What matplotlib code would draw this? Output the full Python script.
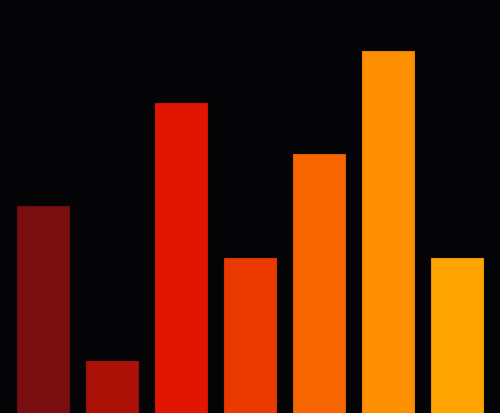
import matplotlib
matplotlib.use("Agg")
import matplotlib.pyplot as plt

categories = ["A", "B", "C", "D", "E", "F", "G"]
values = [4, 1, 6, 3, 5, 7, 3]
colors = ["#7b0e10", "#ac1108", "#e11500", "#ea3a00", "#f76600", "#fe8f00", "#ffa400"]
edge_colors = ["#6a0c0e", "#9a0f07", "#c81300", "#d33400", "#dd5b00", "#e58100", "#e69400"]

bg = "#040306"
fig = plt.figure(figsize=(5.0, 4.14), dpi=100, facecolor=bg)
ax = fig.add_axes([0, 0, 1, 1], facecolor=bg)
x = list(range(len(categories)))
ax.bar(x, values, width=52 / 69, color=colors, edgecolor=edge_colors, linewidth=0.8)
ax.set_xlim(-0.5 - 8.5 / 69, len(categories) - 0.5 + 8.5 / 69)
ax.set_ylim(0, 8)
ax.axis("off")
fig.savefig("out.png", dpi=100, facecolor=bg)
